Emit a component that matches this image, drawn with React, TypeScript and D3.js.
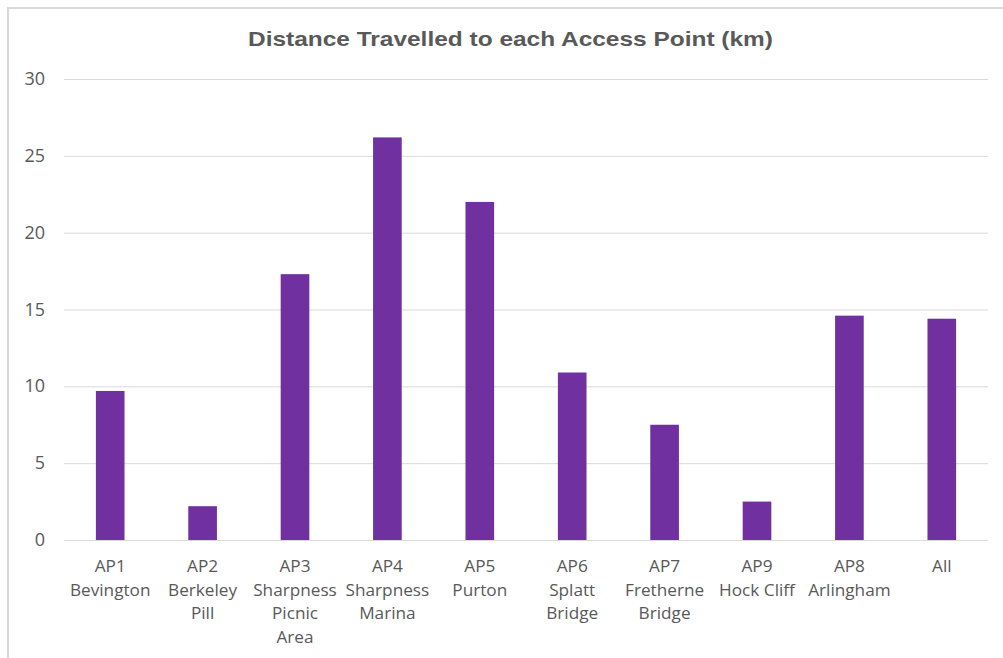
import { useMemo } from 'react'
import * as d3 from 'd3'

const WIDTH = 1003
const HEIGHT = 658
const MARGIN = { top: 79, right: 15, bottom: 118, left: 64 }

const TITLE = 'Distance Travelled to each Access Point (km)'
const CATEGORIES = [
  ['AP1', 'Bevington'],
  ['AP2', 'Berkeley', 'Pill'],
  ['AP3', 'Sharpness', 'Picnic', 'Area'],
  ['AP4', 'Sharpness', 'Marina'],
  ['AP5', 'Purton'],
  ['AP6', 'Splatt', 'Bridge'],
  ['AP7', 'Fretherne', 'Bridge'],
  ['AP9', 'Hock Cliff'],
  ['AP8', 'Arlingham'],
  ['All'],
]
const VALUES = [9.7, 2.2, 17.3, 26.2, 22.0, 10.9, 7.5, 2.5, 14.6, 14.4]
const Y_TICKS = [0, 5, 10, 15, 20, 25, 30]

const BAR_COLOR = '#7030a0'
const TEXT_COLOR = '#595959'
const GRID_COLOR = '#d9d9d9'
const FONT = '"Open Sans", "Noto Sans", sans-serif'

export default function App() {
  const keys = CATEGORIES.map((c) => c.join(' '))
  const x = useMemo(
    () =>
      d3
        .scaleBand()
        .domain(keys)
        .range([MARGIN.left, WIDTH - MARGIN.right])
        .paddingInner(0.69)
        .paddingOuter(0.345),
    []
  )
  const y = useMemo(
    () =>
      d3
        .scaleLinear()
        .domain([0, 30])
        .range([HEIGHT - MARGIN.bottom, MARGIN.top]),
    []
  )
  const band = (WIDTH - MARGIN.left - MARGIN.right) / CATEGORIES.length

  return (
    <svg
      width={WIDTH}
      height={HEIGHT}
      style={{ position: 'absolute', left: 0, top: 0, background: '#fff' }}
      fontFamily={FONT}
    >
      {/* chart frame: only top and left edges visible */}
      <line x1={7} x2={WIDTH} y1={8} y2={8} stroke={GRID_COLOR} strokeWidth={2} />
      <line x1={8} x2={8} y1={7} y2={HEIGHT} stroke={GRID_COLOR} strokeWidth={2} />

      <text
        x={248}
        y={46}
        fill={TEXT_COLOR}
        fontSize={20.5}
        fontWeight="bold"
        textLength={525}
        lengthAdjust="spacingAndGlyphs"
        fontFamily='"Liberation Sans Narrow", "Liberation Sans", Arial, sans-serif'
      >
        {TITLE}
      </text>

      {Y_TICKS.map((t) => (
        <g key={t}>
          <line
            x1={MARGIN.left}
            x2={WIDTH - MARGIN.right}
            y1={y(t) + 0.5}
            y2={y(t) + 0.5}
            stroke={GRID_COLOR}
            strokeWidth={1}
          />
          <text x={45} y={y(t) + 6} textAnchor="end" fontSize={18} fill={TEXT_COLOR}>
            {t}
          </text>
        </g>
      ))}

      {VALUES.map((v, i) => (
        <rect
          key={keys[i]}
          x={x(keys[i])}
          y={y(v)}
          width={x.bandwidth()}
          height={y(0) - y(v)}
          fill={BAR_COLOR}
        />
      ))}

      {CATEGORIES.map((lines, i) => {
        const cx = MARGIN.left + band * (i + 0.5)
        return (
          <text key={keys[i]} x={cx} y={572} textAnchor="middle" fontSize={17.2} fill={TEXT_COLOR}>
            {lines.map((l, j) => (
              <tspan key={j} x={cx} dy={j === 0 ? 0 : 23.7}>
                {l}
              </tspan>
            ))}
          </text>
        )
      })}
    </svg>
  )
}
